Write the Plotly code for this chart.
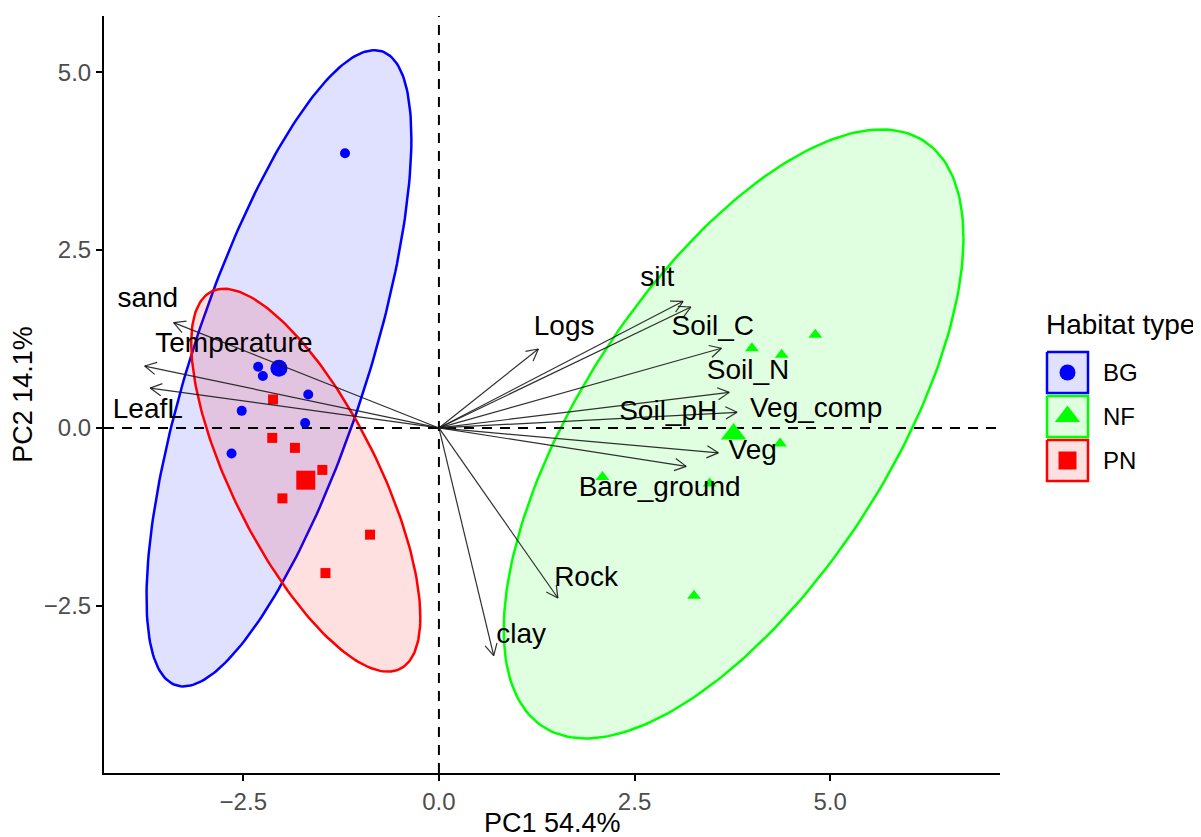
import numpy as np
import plotly.graph_objects as go

# ---------------- data ----------------
groups = ["BG", "NF", "PN"]

bg_pc1 = [-1.20, -2.31, -2.25, -1.67, -2.52, -1.71, -2.65]
bg_pc2 = [3.86, 0.86, 0.73, 0.47, 0.24, 0.07, -0.36]

nf_pc1 = [4.00, 4.38, 4.81, 4.36, 2.09, 3.46, 3.26]
nf_pc2 = [1.12, 1.03, 1.31, -0.22, -0.69, -0.78, -2.36]

pn_pc1 = [-2.12, -2.13, -1.84, -1.49, -2.00, -0.88, -1.45]
pn_pc2 = [0.40, -0.14, -0.28, -0.59, -0.99, -1.50, -2.04]

variables = ["sand", "Temperature", "LeafL", "Logs", "silt", "Soil_C", "Soil_N",
             "Soil_pH", "Veg_comp", "Veg", "Bare_ground", "Rock", "clay"]
var_pc1 = [-3.39, -3.76, -3.69, 1.27, 3.12, 3.22, 3.61, 3.71, 3.81, 3.57, 3.16, 1.52, 0.70]
var_pc2 = [1.48, 0.87, 0.56, 1.11, 1.78, 1.70, 1.12, 0.50, 0.22, -0.35, -0.54, -2.39, -3.20]

x_ticks = [-2.5, 0.0, 2.5, 5.0]
y_ticks = [-2.5, 0.0, 2.5, 5.0]

# ---------------- layout / style settings ----------------
# repelled label positions (data units) for variable names
label_x = [-3.72, -2.62, -3.72, 1.60, 2.79, 3.50, 3.95, 2.93, 4.82, 4.01, 2.82, 1.88, 1.05]
label_y = [1.80, 1.17, 0.24, 1.40, 2.09, 1.40, 0.79, 0.21, 0.25, -0.34, -0.86, -2.12, -2.92]

colors = {"BG": "#0000FF", "NF": "#00FF00", "PN": "#FF0000"}
fills = {"BG": "rgba(0,0,255,0.12)", "NF": "rgba(0,255,0,0.12)", "PN": "rgba(255,0,0,0.12)"}
symbols = {"BG": "circle", "NF": "triangle-up", "PN": "square"}
pt_size = {"BG": 10, "NF": 12, "PN": 10}
mean_size = {"BG": 17, "NF": 22, "PN": 19}

PAGE_OFF = 8                      # default body margin of the html page
W, H = 1201, 837
PANEL_L, PANEL_R, PANEL_T, PANEL_B = 104, 1000, 16, 773   # page pixels
ML = PANEL_L - PAGE_OFF
MT = PANEL_T - PAGE_OFF
MB = H - (PANEL_B - PAGE_OFF)
MR = 1
PLOT_W = W - ML - MR
PANEL_W = PANEL_R - PANEL_L
PLOT_H = PANEL_B - PANEL_T
XR = [-4.28, 7.17]
YR = [-4.85, 5.79]
ux = PANEL_W / (XR[1] - XR[0])
uy = PLOT_H / (YR[1] - YR[0])

FONT = "Liberation Sans, Arial, sans-serif"

data = {"BG": (bg_pc1, bg_pc2), "NF": (nf_pc1, nf_pc2), "PN": (pn_pc1, pn_pc2)}


def norm_ellipse(xs, ys, level=0.95, npts=241):
    x = np.asarray(xs, float)
    y = np.asarray(ys, float)
    n = len(x)
    cov = np.cov(np.vstack([x, y]))
    dfd = n - 1
    fq = dfd / 2.0 * ((1 - level) ** (-2.0 / dfd) - 1)  # qf(level, 2, dfd)
    radius = np.sqrt(2 * fq)
    L = np.linalg.cholesky(cov)
    t = np.linspace(0, 2 * np.pi, npts)
    unit = np.vstack([np.cos(t), np.sin(t)])
    pts = np.array([[x.mean()], [y.mean()]]) + radius * (L @ unit)
    return pts[0], pts[1]


fig = go.Figure()

# ellipses
for g in groups:
    ex, ey = norm_ellipse(*data[g])
    fig.add_trace(go.Scatter(x=ex, y=ey, mode="lines", fill="toself",
                             fillcolor=fills[g], line=dict(color=colors[g], width=2.5),
                             hoverinfo="skip", showlegend=False))

# reference dashed lines
fig.add_trace(go.Scatter(x=[0, 0], y=YR, mode="lines",
                         line=dict(color="black", width=2, dash="10px,8px"),
                         hoverinfo="skip", showlegend=False))
fig.add_trace(go.Scatter(x=XR, y=[0, 0], mode="lines",
                         line=dict(color="black", width=2, dash="10px,8px"),
                         hoverinfo="skip", showlegend=False))

# points and group means
for g in groups:
    xs, ys = data[g]
    fig.add_trace(go.Scatter(x=xs, y=ys, mode="markers",
                             marker=dict(symbol=symbols[g], size=pt_size[g], color=colors[g]),
                             name=g, showlegend=False))
    fig.add_trace(go.Scatter(x=[float(np.mean(xs))], y=[float(np.mean(ys))], mode="markers",
                             marker=dict(symbol=symbols[g], size=mean_size[g], color=colors[g]),
                             hoverinfo="skip", showlegend=False))

# variable arrows (shaft + open head computed in pixel space)
ax_, ay_ = [], []
HEAD = 13.0
ANG = np.deg2rad(28)
for vx, vy in zip(var_pc1, var_pc2):
    ax_ += [0, vx, None]
    ay_ += [0, vy, None]
    px, py = vx * ux, vy * uy
    d = np.hypot(px, py)
    dx, dy = px / d, py / d
    for s in (1, -1):
        c, sn = np.cos(s * ANG), np.sin(s * ANG)
        hx = dx * c - dy * sn
        hy = dx * sn + dy * c
        ax_ += [vx - HEAD * hx / ux, vx, None]
        ay_ += [vy - HEAD * hy / uy, vy, None]
fig.add_trace(go.Scatter(x=ax_, y=ay_, mode="lines",
                         line=dict(color="rgba(25,25,25,0.9)", width=1.2),
                         hoverinfo="skip", showlegend=False))

fig.add_trace(go.Scatter(x=label_x, y=label_y, mode="text", text=variables,
                         textposition="middle center",
                         textfont=dict(family=FONT, size=28, color="black"),
                         hoverinfo="skip", showlegend=False))

# ---------------- manual legend (page pixel coordinates on x2/y2) ----------------
key_top = [352, 396, 440]
KEY = 41
for g, top in zip(groups, key_top):
    fig.add_trace(go.Scatter(
        x=[1047, 1047 + KEY, 1047 + KEY, 1047, 1047],
        y=[top, top, top + KEY, top + KEY, top],
        mode="lines", fill="toself", fillcolor=fills[g],
        line=dict(color=colors[g], width=2.5),
        xaxis="x2", yaxis="y2", hoverinfo="skip", showlegend=False))
    fig.add_annotation(xref="x2", yref="y2", x=1101, y=top + KEY / 2, text=g,
                       showarrow=False, xanchor="left", yanchor="middle",
                       font=dict(family=FONT, size=24, color="black"))
for g, top, sz in zip(groups, key_top, [16, 22, 18]):
    fig.add_trace(go.Scatter(
        x=[1047 + KEY / 2], y=[top + KEY / 2], mode="markers",
        marker=dict(symbol=symbols[g], size=sz, color=colors[g], opacity=1),
        xaxis="x2", yaxis="y2", hoverinfo="skip", showlegend=False))
fig.add_annotation(xref="x2", yref="y2", x=1044, y=324, text="Habitat type",
                   showarrow=False, xanchor="left", yanchor="middle",
                   font=dict(family=FONT, size=28, color="black"))

# x axis title placed just below the tick labels
fig.add_annotation(xref="paper", yref="paper", x=(PANEL_W / PLOT_W) / 2, y=0,
                   yanchor="middle", xanchor="center", yshift=-50, showarrow=False,
                   text="PC1 54.4%", font=dict(family=FONT, size=27, color="black"))

fig.update_layout(
    width=W, height=H,
    margin=dict(l=ML, r=MR, t=MT, b=MB),
    paper_bgcolor="white", plot_bgcolor="white",
    showlegend=False,
    xaxis=dict(domain=[0, PANEL_W / PLOT_W], range=XR, showgrid=False, zeroline=False,
               showline=True, linecolor="black", linewidth=2,
               ticks="outside", ticklen=6, tickwidth=2, tickcolor="black",
               tickvals=x_ticks, tickformat=".1f",
               tickfont=dict(family=FONT, size=24, color="#4D4D4D"),
               automargin=False),
    yaxis=dict(range=YR, showgrid=False, zeroline=False,
               showline=True, linecolor="black", linewidth=2,
               ticks="outside", ticklen=6, tickwidth=2, tickcolor="black",
               tickvals=y_ticks, tickformat=".1f",
               tickfont=dict(family=FONT, size=24, color="#4D4D4D"),
               title=dict(text="PC2 14.1%", font=dict(family=FONT, size=27, color="black"),
                          standoff=8),
               automargin=False),
    xaxis2=dict(domain=[PANEL_W / PLOT_W, 1], range=[PANEL_R, PANEL_R + (PLOT_W - PANEL_W)],
                anchor="y2", visible=False, fixedrange=True),
    yaxis2=dict(domain=[0, 1], range=[PANEL_B, PANEL_T], anchor="x2",
                visible=False, fixedrange=True),
)

fig.write_html("out.html")
